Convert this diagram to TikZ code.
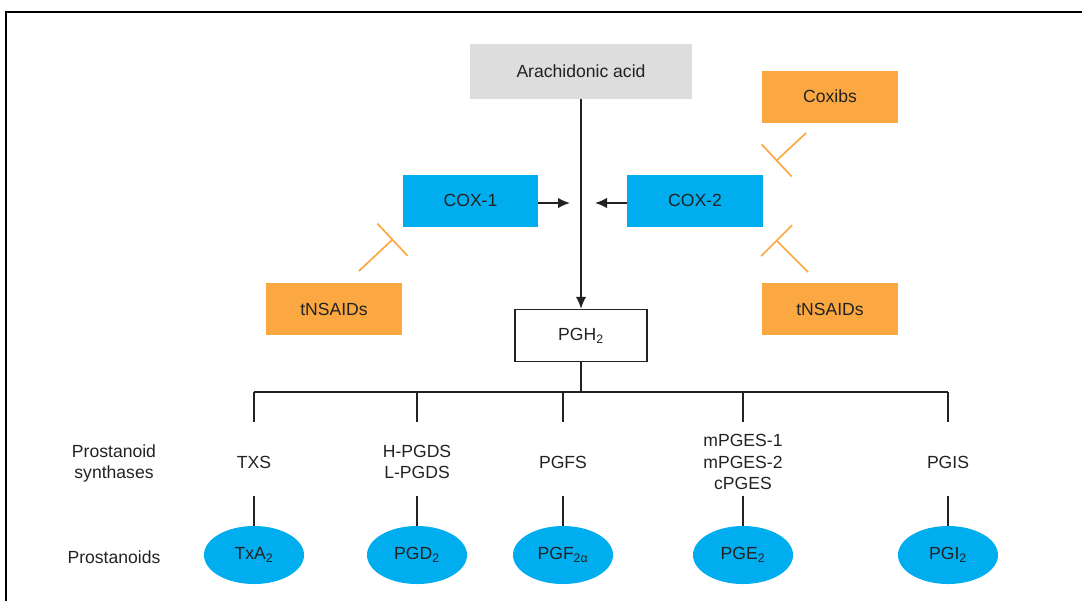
\documentclass[tikz,border=0pt]{standalone}
\usepackage{fontspec}
\setmainfont{Liberation Sans}
\usetikzlibrary{shapes.geometric,arrows.meta}

\definecolor{coxblue}{HTML}{00AEEF}
\definecolor{drugorange}{HTML}{FBA842}
\definecolor{acidgray}{HTML}{DDDDDD}
\definecolor{inkgray}{HTML}{222222}

\tikzset{
  txt/.style={text=inkgray, font=\fontsize{12.5}{15}\selectfont, align=center, inner sep=0pt},
  box/.style={txt, minimum width=3.375cm, minimum height=1.3cm},
  enzyme/.style={box, fill=coxblue},
  drug/.style={box, fill=drugorange},
  prod/.style={txt, ellipse, fill=coxblue, minimum width=2.5cm, minimum height=1.45cm},
  link/.style={draw=inkgray, line width=1pt},
  push/.style={link, -{Latex[length=3mm, width=2.6mm]}},
  block/.style={draw=drugorange, line width=1.2pt, -{Bar[width=1.1cm]}}
}

\begin{document}
\begin{tikzpicture}[x=0.025cm, y=-0.025cm]
	\useasboundingbox (0,0) rectangle (1082,601);
	\draw[line width=1.5pt] (6,601) -- (6,12) -- (1082,12);

	% upper part
	\node[box, fill=acidgray, minimum width=5.55cm, minimum height=1.375cm] (arach) at (581,71.5) {Arachidonic acid};
	\node[drug] (coxib) at (830,96.5) {Coxibs};
	\node[enzyme] (cox1) at (470.5,200.5) {COX-1};
	\node[enzyme] (cox2) at (695,200.5) {COX-2};
	\node[drug] (nsaidL) at (334,309) {tNSAIDs};
	\node[drug] (nsaidR) at (830,309) {tNSAIDs};
	\node[box, draw=inkgray, line width=1pt, minimum width=3.3cm, minimum height=1.3cm] (pgh) at (581,335.5) {PGH\textsubscript{2}};

	\coordinate (meet1) at (570,203);
	\coordinate (meet2) at (595,203);
	\draw[push] (arach.south) -- (pgh.north);
	\draw[push] (cox1.east |- meet1) -- (meet1);
	\draw[push] (cox2.west |- meet2) -- (meet2);

	% inhibitors
	\coordinate (hitL) at (393,239);
	\coordinate (hitC) at (776,161);
	\coordinate (hitR) at (776,240);
	\draw[block] (359,271) -- (hitL);
	\draw[block] (806,133) -- (hitC);
	\draw[block] (808,272) -- (hitR);

	% branches
	\coordinate (fork) at (581,392);
	\draw[link] (pgh) -- (fork);
	\draw[link] (254,392) -- (948,392);

	\node[txt] (txs) at (254,462) {TXS};
	\node[txt] (pgds) at (417,462) {H-PGDS\\L-PGDS};
	\node[txt] (pgfs) at (563,462) {PGFS};
	\node[txt] (pges) at (743,462) {mPGES-1\\mPGES-2\\cPGES};
	\node[txt] (pgis) at (948,462) {PGIS};

	\node[prod] (txa) at (254,555) {TxA\textsubscript{2}};
	\node[prod] (pgd) at (417,555) {PGD\textsubscript{2}};
	\node[prod] (pgf) at (563,555) {PGF\textsubscript{2α}};
	\node[prod] (pge) at (743,555) {PGE\textsubscript{2}};
	\node[prod] (pgi) at (948,555) {PGI\textsubscript{2}};

	\foreach \s/\p in {txs/txa, pgds/pgd, pgfs/pgf, pges/pge, pgis/pgi} {
		\draw[link] (\s |- fork) -- ([yshift=-0.75cm]\s |- fork);
		\draw[link] ([yshift=0.75cm]\p.north) -- (\p.north);
	}

	\node[txt] (rowS) at (114,463) {Prostanoid\\synthases};
	\node[txt] (rowP) at (114,557) {Prostanoids};
\end{tikzpicture}
\end{document}
